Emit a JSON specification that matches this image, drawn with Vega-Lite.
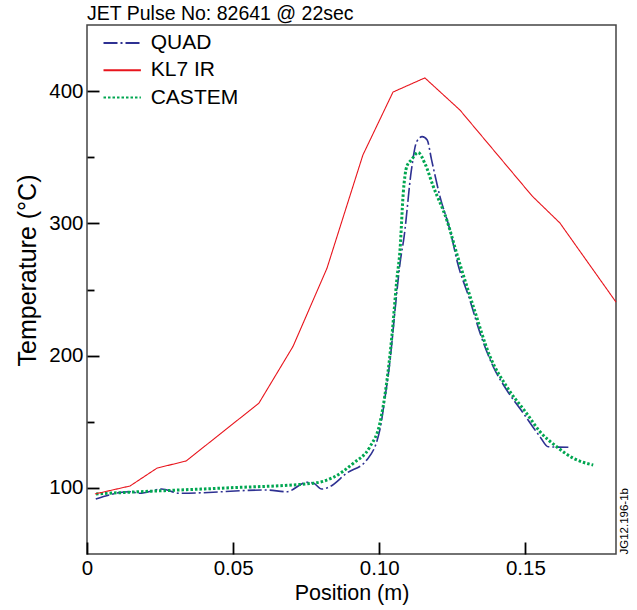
{
  "$schema": "https://vega.github.io/schema/vega-lite/v6.json",
  "width": 529,
  "height": 529,
  "autosize": "none",
  "padding": {"left": 87, "top": 25, "right": 21, "bottom": 56},
  "background": "white",
  "title": {"text": "JET Pulse No: 82641 @ 22sec", "anchor": "start", "frame": "group", "fontSize": 19.5, "fontWeight": "normal", "font": "Liberation Sans", "color": "black", "offset": 1},
  "config": {
    "view": {"stroke": "#444444", "strokeWidth": 1.5},
    "font": "Liberation Sans",
    "legend": {"labelFontSize": 21, "labelFont": "Liberation Sans", "labelColor": "black", "padding": 0}
  },
  "data": {"values": [
    {"series": "QUAD", "x": 0.003, "y": 91.6},
    {"series": "QUAD", "x": 0.0147, "y": 97.1},
    {"series": "QUAD", "x": 0.018, "y": 95.9},
    {"series": "QUAD", "x": 0.0255, "y": 99.1},
    {"series": "QUAD", "x": 0.0318, "y": 95.9},
    {"series": "QUAD", "x": 0.0615, "y": 98.4},
    {"series": "QUAD", "x": 0.0683, "y": 97.1},
    {"series": "QUAD", "x": 0.0752, "y": 104.2},
    {"series": "QUAD", "x": 0.0774, "y": 103.7},
    {"series": "QUAD", "x": 0.0803, "y": 99.1},
    {"series": "QUAD", "x": 0.0831, "y": 100.9},
    {"series": "QUAD", "x": 0.0888, "y": 111},
    {"series": "QUAD", "x": 0.0957, "y": 121},
    {"series": "QUAD", "x": 0.1002, "y": 143.8},
    {"series": "QUAD", "x": 0.102, "y": 168.9},
    {"series": "QUAD", "x": 0.1037, "y": 196.7},
    {"series": "QUAD", "x": 0.1054, "y": 234.5},
    {"series": "QUAD", "x": 0.1071, "y": 269.8},
    {"series": "QUAD", "x": 0.1085, "y": 290},
    {"series": "QUAD", "x": 0.111, "y": 340.4},
    {"series": "QUAD", "x": 0.1128, "y": 361.8},
    {"series": "QUAD", "x": 0.1147, "y": 365.6},
    {"series": "QUAD", "x": 0.1164, "y": 363},
    {"series": "QUAD", "x": 0.1179, "y": 348},
    {"series": "QUAD", "x": 0.1208, "y": 320},
    {"series": "QUAD", "x": 0.1242, "y": 295},
    {"series": "QUAD", "x": 0.1268, "y": 270},
    {"series": "QUAD", "x": 0.131, "y": 242},
    {"series": "QUAD", "x": 0.1345, "y": 216.9},
    {"series": "QUAD", "x": 0.139, "y": 191.6},
    {"series": "QUAD", "x": 0.1436, "y": 174},
    {"series": "QUAD", "x": 0.1493, "y": 156.4},
    {"series": "QUAD", "x": 0.155, "y": 138.7},
    {"series": "QUAD", "x": 0.1578, "y": 131.1},
    {"series": "QUAD", "x": 0.1647, "y": 130.7},
    {"series": "KL7 IR", "x": 0.0027, "y": 95.4},
    {"series": "KL7 IR", "x": 0.0147, "y": 101.4},
    {"series": "KL7 IR", "x": 0.024, "y": 115},
    {"series": "KL7 IR", "x": 0.0339, "y": 120.3},
    {"series": "KL7 IR", "x": 0.0588, "y": 164},
    {"series": "KL7 IR", "x": 0.0705, "y": 207},
    {"series": "KL7 IR", "x": 0.0821, "y": 266},
    {"series": "KL7 IR", "x": 0.0944, "y": 351.7},
    {"series": "KL7 IR", "x": 0.1047, "y": 399.3},
    {"series": "KL7 IR", "x": 0.1156, "y": 410},
    {"series": "KL7 IR", "x": 0.1276, "y": 385.7},
    {"series": "KL7 IR", "x": 0.1523, "y": 320.7},
    {"series": "KL7 IR", "x": 0.1618, "y": 300.3},
    {"series": "KL7 IR", "x": 0.181, "y": 240.5},
    {"series": "CASTEM", "x": 0.0031, "y": 95.4},
    {"series": "CASTEM", "x": 0.018, "y": 97.1},
    {"series": "CASTEM", "x": 0.0318, "y": 98.4},
    {"series": "CASTEM", "x": 0.049, "y": 100.1},
    {"series": "CASTEM", "x": 0.0774, "y": 103.5},
    {"series": "CASTEM", "x": 0.0843, "y": 108},
    {"series": "CASTEM", "x": 0.0911, "y": 118.6},
    {"series": "CASTEM", "x": 0.0968, "y": 131.1},
    {"series": "CASTEM", "x": 0.1002, "y": 148.8},
    {"series": "CASTEM", "x": 0.1025, "y": 179},
    {"series": "CASTEM", "x": 0.1043, "y": 214.3},
    {"series": "CASTEM", "x": 0.106, "y": 257.2},
    {"series": "CASTEM", "x": 0.1071, "y": 280},
    {"series": "CASTEM", "x": 0.1082, "y": 322.7},
    {"series": "CASTEM", "x": 0.1094, "y": 342.9},
    {"series": "CASTEM", "x": 0.111, "y": 348},
    {"series": "CASTEM", "x": 0.1133, "y": 353.5},
    {"series": "CASTEM", "x": 0.1156, "y": 345.4},
    {"series": "CASTEM", "x": 0.1185, "y": 327.8},
    {"series": "CASTEM", "x": 0.1231, "y": 302.6},
    {"series": "CASTEM", "x": 0.1268, "y": 275},
    {"series": "CASTEM", "x": 0.1322, "y": 237},
    {"series": "CASTEM", "x": 0.1379, "y": 199.2},
    {"series": "CASTEM", "x": 0.1436, "y": 176.5},
    {"series": "CASTEM", "x": 0.1504, "y": 156.4},
    {"series": "CASTEM", "x": 0.155, "y": 142.5},
    {"series": "CASTEM", "x": 0.1607, "y": 131.1},
    {"series": "CASTEM", "x": 0.1664, "y": 122.4},
    {"series": "CASTEM", "x": 0.1732, "y": 117.3}
  ]},
  "encoding": {
    "x": {"field": "x", "type": "quantitative",
      "scale": {"domain": [0, 0.181], "nice": false, "zero": false},
      "axis": {"values": [0, 0.05, 0.1, 0.15], "labelExpr": "datum.value === 0 ? '0' : format(datum.value, '.2f')",
        "domain": false, "grid": false, "ticks": true, "tickSize": -12, "tickColor": "#000000", "tickWidth": 1.8, "labelPadding": 16,
        "labelFlush": false, "labelFontSize": 20.5, "labelColor": "black", "labelFont": "Liberation Sans",
        "title": "Position (m)", "titleFontSize": 21.5, "titleFontWeight": "normal", "titleColor": "black", "titleFont": "Liberation Sans", "titlePadding": 4}},
    "color": {"field": "series", "type": "nominal",
      "scale": {"domain": ["QUAD", "KL7 IR", "CASTEM"], "range": ["#2e3192", "#e8141c", "#00a651"]},
      "legend": {"title": null, "orient": "none", "legendX": 24.7, "legendY": 7.5, "symbolType": "M-2.2,0H2.2", "symbolSize": 289, "labelOffset": 18, "rowPadding": 5.3, "symbolStrokeWidth": 2}},
    "strokeDash": {"field": "series", "type": "nominal",
      "scale": {"domain": ["QUAD", "KL7 IR", "CASTEM"], "range": [[14, 3, 2, 3], [1, 0], [2.5, 2]]}}
  },
  "layer": [
    {
      "transform": [{"filter": "datum.series === 'QUAD'"}],
      "mark": {"type": "line", "interpolate": "monotone", "strokeWidth": 1.6},
      "encoding": {
        "y": {"field": "y", "type": "quantitative",
          "scale": {"domain": [50, 450], "nice": false, "zero": false},
          "axis": {"orient": "left", "values": [100, 150, 200, 250, 300, 350, 400],
            "labelExpr": "datum.value % 100 === 0 ? datum.label : ''",
            "ticks": true,
            "tickSize": {"condition": {"test": "datum.value % 100 === 0", "value": -12}, "value": -7},
            "domain": false, "grid": false, "tickColor": "#000000", "tickWidth": 1.8, "labelPadding": 16,
            "labelFlush": false, "labelFontSize": 20.5, "labelColor": "black", "labelFont": "Liberation Sans",
            "title": "Temperature (°C)", "titleFontSize": 25, "titleFontWeight": "normal", "titleColor": "black", "titleFont": "Liberation Sans", "titlePadding": 8, "titleY": 245}}
      }
    },
    {
      "transform": [{"filter": "datum.series === 'CASTEM'"}],
      "mark": {"type": "line", "interpolate": "monotone", "strokeWidth": 3},
      "encoding": {
        "y": {"field": "y", "type": "quantitative", "axis": null}
      }
    },
    {
      "transform": [{"filter": "datum.series === 'KL7 IR'"}],
      "mark": {"type": "line", "interpolate": "linear", "strokeWidth": 1.1},
      "encoding": {
        "y": {"field": "y", "type": "quantitative",
          "axis": {"orient": "right", "labels": false, "ticks": false, "domain": false, "grid": false,
            "title": "JG12.196-1b", "titleFontSize": 11.5, "titleFontWeight": "normal", "titleColor": "black", "titleFont": "Liberation Sans",
            "titleAngle": 270, "titleAnchor": "start", "titleAlign": "left", "titleBaseline": "top", "titlePadding": 2}}
      }
    }
  ],
  "resolve": {"axis": {"y": "independent"}}
}
